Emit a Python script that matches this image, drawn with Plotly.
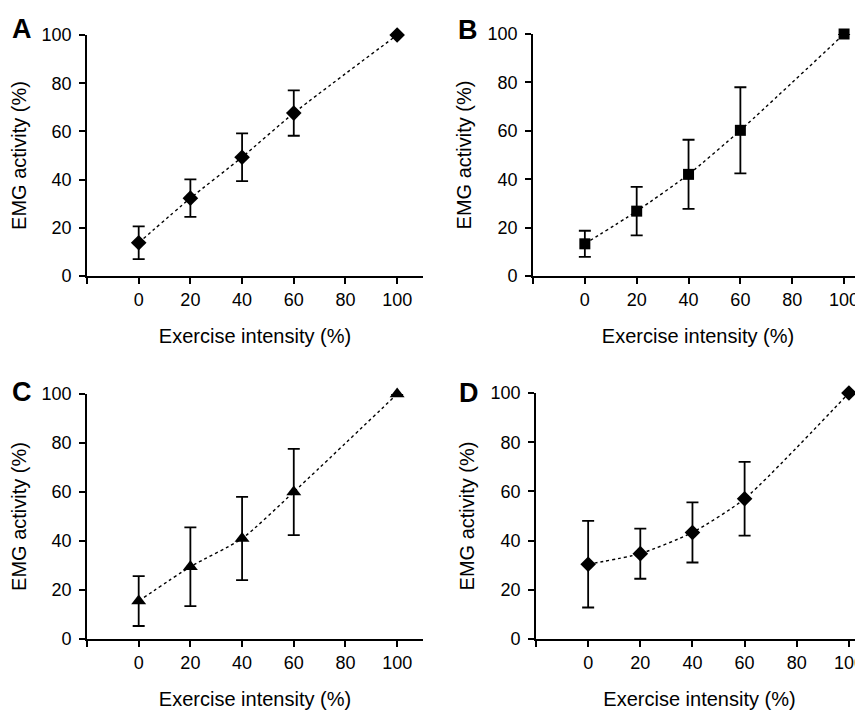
import plotly.graph_objects as go

# ---- data ----
intensity = [0, 20, 40, 60, 100]

a_mean = [13.8, 32.3, 49.3, 67.6, 100]
a_err = [6.8, 7.8, 9.9, 9.4, 0]

b_mean = [13.3, 26.8, 42.0, 60.2, 100]
b_err = [5.4, 10.0, 14.3, 17.8, 0]

c_mean = [15.5, 29.5, 41.0, 60.0, 100]
c_err = [10.2, 16.1, 17.0, 17.6, 0]

d_mean = [30.4, 34.7, 43.3, 57.0, 100]
d_err = [17.6, 10.2, 12.2, 15.0, 0]

panel_letters = ["A", "B", "C", "D"]
x_ticks = [-20, 0, 20, 40, 60, 80, 100]
x_ticktext = ["", "0", "20", "40", "60", "80", "100"]
y_ticks = [0, 20, 40, 60, 80, 100]

x_title = "Exercise intensity (%)"
y_title = "EMG activity (%)"

PAGE_W, PAGE_H = 863, 713
OFF = 8  # default page body margin
W, H = PAGE_W - OFF, PAGE_H - OFF
FONT = "Liberation Sans, Arial, sans-serif"


def px(v):
    return (v - OFF) / W


def py(v):
    return 1 - (v - OFF) / H


panels = [
    # means, errs, symbol, size, x-domain(page px), y-domain(page px top,bottom), x range right
    (a_mean, a_err, "diamond", 12, (87, 423), (35, 276), 110.0),
    (b_mean, b_err, "square", 11, (533, 863), (34, 276), 107.3),
    (c_mean, c_err, "triangle-up", 13, (87, 423), (394, 639), 110.0),
    (d_mean, d_err, "diamond", 12, (536, 863), (393, 639), 105.4),
]
letter_pos = [(22, 29), (468, 30), (22, 392), (469, 393)]

fig = go.Figure()
layout = dict(
    width=W, height=H,
    margin=dict(l=0, r=0, t=0, b=0, autoexpand=False),
    paper_bgcolor="white", plot_bgcolor="white",
    showlegend=False,
    font=dict(family=FONT, size=18, color="black"),
)
annotations = []

for i, (m, e, sym, msize, xd, yd, xr) in enumerate(panels):
    n = i + 1
    xa = "x" if n == 1 else f"x{n}"
    ya = "y" if n == 1 else f"y{n}"
    fig.add_trace(go.Scatter(
        x=intensity, y=m, xaxis=xa, yaxis=ya,
        mode="lines+markers",
        line=dict(color="black", width=1.4, dash="dot", shape="spline", smoothing=0.6),
        marker=dict(symbol=sym, size=msize, color="black"),
        error_y=dict(type="data", array=e, visible=True, color="black",
                     thickness=1.8, width=6),
        cliponaxis=False,
    ))
    xkey = "xaxis" if n == 1 else f"xaxis{n}"
    ykey = "yaxis" if n == 1 else f"yaxis{n}"
    layout[xkey] = dict(
        domain=[max(px(xd[0]), 0), min(px(xd[1]), 1.0)],
        anchor=ya, range=[-20, xr], automargin=False,
        tickmode="array", tickvals=x_ticks, ticktext=x_ticktext,
        ticks="outside", ticklen=6, tickwidth=1.8, tickcolor="black",
        showline=True, linecolor="black", linewidth=1.8,
        showgrid=False, zeroline=False,
        ticklabelstandoff=0, ticklabeloverflow="allow",
        tickfont=dict(size=18),
        title=dict(text=x_title, font=dict(size=20), standoff=20),
    )
    layout[ykey] = dict(
        domain=[py(yd[1]), py(yd[0])],
        anchor=xa, range=[0, 100], automargin=False,
        tickmode="array", tickvals=y_ticks,
        ticks="outside", ticklen=6, tickwidth=1.8, tickcolor="black",
        showline=True, linecolor="black", linewidth=1.8,
        showgrid=False, zeroline=False,
        ticklabelstandoff=4, ticklabeloverflow="allow",
        tickfont=dict(size=18),
        title=dict(text=y_title, font=dict(size=20), standoff=10),
    )
    lx, ly = letter_pos[i]
    annotations.append(dict(
        text=f"<b>{panel_letters[i]}</b>", x=px(lx), y=py(ly),
        xref="paper", yref="paper", showarrow=False,
        xanchor="center", yanchor="middle",
        font=dict(size=27, family=FONT, color="black"),
    ))

layout["annotations"] = annotations
fig.update_layout(**layout)
fig.write_html("out.html")
